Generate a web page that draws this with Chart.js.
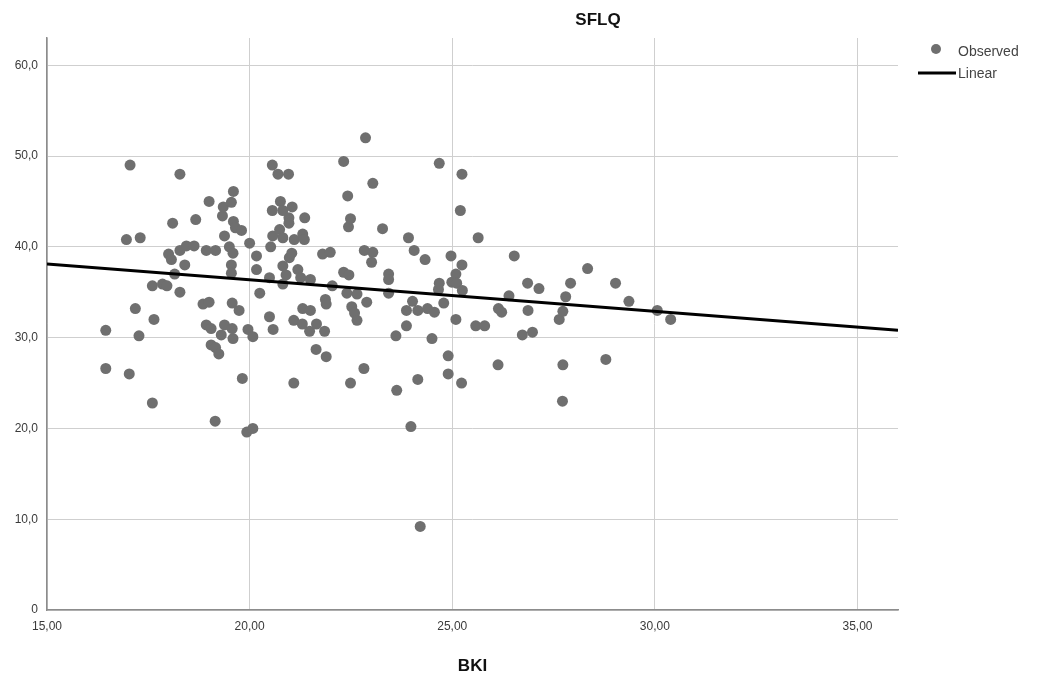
<!DOCTYPE html>
<html lang="en">
<head>
    <meta charset="UTF-8">
    <title>SFLQ vs BKI</title>
    <script src="https://cdn.jsdelivr.net/npm/chart.js"></script>
    <style>
        body {
            margin: 0;
            padding: 0;
            background: #fff;
        }
        .wrap {
            position: relative;
            width: 1038px;
            height: 680px;
        }
    </style>
</head>
<body>
<div class="wrap">
    <canvas id="chart" width="1038" height="680"></canvas>
</div>
<script>
    // observed points (BKI, SFLQ)
    const bki = [
        16.45, 16.45, 16.96, 17.05, 17.03, 17.18, 17.27, 17.3, 17.6, 17.6,
        17.64, 17.85, 17.96, 18.0, 18.07, 18.1, 18.15, 18.28, 18.28, 18.28,
        18.4, 18.44, 18.63, 18.67, 18.85, 18.93, 18.93, 19.0, 19.0, 19.05,
        19.05, 19.15, 19.16, 19.16, 19.24, 19.3, 19.33, 19.35, 19.38, 19.38,
        19.5, 19.55, 19.55, 19.55, 19.57, 19.57, 19.59, 19.59, 19.6, 19.6,
        19.65, 19.74, 19.8, 19.82, 19.93, 19.96, 20.0, 20.08, 20.08,
        20.17, 20.17, 20.25, 20.49, 20.49, 20.52, 20.56, 20.56, 20.57, 20.58,
        20.7, 20.74, 20.76, 20.82, 20.82, 20.82, 20.82, 20.9, 20.96, 20.97,
        20.97, 20.98, 21.04, 21.05, 21.09, 21.09, 21.1, 21.19, 21.26, 21.3,
        21.31, 21.31, 21.35, 21.36, 21.48, 21.5, 21.5, 21.64, 21.65, 21.8,
        21.85, 21.87, 21.89, 21.89, 21.99, 22.04, 22.32, 22.32, 22.4, 22.42,
        22.44, 22.45, 22.49, 22.49, 22.52, 22.59, 22.65, 22.65, 22.82, 22.83,
        22.86, 22.89, 23.01, 23.04, 23.04, 23.28, 23.43, 23.43, 23.43, 23.61,
        23.63, 23.87, 23.87, 23.92, 23.98, 24.02, 24.06, 24.15, 24.15, 24.21,
        24.33, 24.39, 24.5, 24.56, 24.66, 24.68, 24.68, 24.79, 24.9, 24.9,
        24.97, 24.99, 25.09, 25.09, 25.11, 25.2, 25.23, 25.24, 25.24, 25.25,
        25.58, 25.64, 25.8, 26.13, 26.14, 26.22, 26.4, 26.53, 26.73, 26.86,
        26.87, 26.98, 27.14, 27.64, 27.72, 27.73, 27.73, 27.8, 27.92, 28.34,
        28.79, 29.03, 29.36, 30.06, 30.39
    ];
    const sflq = [
        30.8, 26.6, 40.8, 49.0, 26.0, 33.2, 30.2, 41.0, 22.8, 35.7,
        32.0, 35.9, 35.7, 39.2, 38.6, 42.6, 37.0, 48.0, 39.6, 35.0,
        38.0, 40.1, 40.1, 43.0, 33.7, 39.6, 31.4, 45.0, 33.9, 31.0,
        29.2, 20.8, 39.6, 28.9, 28.2, 30.3, 43.4, 44.4, 41.2, 31.4,
        40.0, 44.9, 38.0, 37.1, 33.8, 31.0, 39.3, 29.9, 46.1, 42.8,
        42.1, 33.0, 41.8, 25.5, 19.6, 30.9, 40.4, 30.1, 20.0,
        39.0, 37.5, 34.9, 36.6, 32.3, 40.0, 49.0, 44.0, 41.2, 30.9,
        48.0, 41.9, 45.0, 44.0, 41.0, 37.9, 35.9, 36.9, 48.0, 43.2,
        42.6, 38.8, 39.3, 44.4, 31.9, 25.0, 40.8, 37.5, 36.6, 31.5,
        41.4, 33.2, 40.8, 43.2, 30.7, 36.4, 33.0, 28.7, 31.5, 39.2,
        30.7, 34.2, 33.7, 27.9, 39.4, 35.7, 49.4, 37.2, 34.9, 45.6,
        42.2, 36.9, 43.1, 25.0, 33.4, 32.7, 31.9, 34.8, 26.6, 39.6,
        52.0, 33.9, 38.3, 47.0, 39.4, 42.0, 37.0, 36.4, 34.9, 30.2,
        24.2, 31.3, 33.0, 41.0, 20.2, 34.0, 39.6, 33.0, 25.4, 9.2,
        38.6, 33.2, 29.9, 32.8, 35.3, 36.0, 49.2, 33.8, 28.0, 26.0,
        39.0, 36.1, 37.0, 32.0, 36.0, 44.0, 25.0, 48.0, 38.0, 35.2,
        31.3, 41.0, 31.3, 27.0, 33.2, 32.8, 34.6, 39.0, 30.3, 36.0,
        33.0, 30.6, 35.4, 32.0, 23.0, 32.9, 27.0, 34.5, 36.0, 37.6,
        27.6, 36.0, 34.0, 33.0, 32.0
    ];

    // linear fit line, ends read at the plot edges
    const fitX = [15, 36];
    const fitY = [38.1, 30.8];

    const xTicks = [15, 20, 25, 30, 35];
    const yTicks = [0, 10, 20, 30, 40, 50, 60];

    const observed = bki.map((x, i) => ({ x: x, y: sflq[i] }));
    const linear = fitX.map((x, i) => ({ x: x, y: fitY[i] }));

    const dotColor = '#6f6f6f';
    const textColor = '#3a3a3a';
    const fontFamily = 'Arial, "Liberation Sans", sans-serif';

    // titles and legend
    const extras = {
        id: 'extras',
        afterDraw(chart) {
            const ctx = chart.ctx;
            const area = chart.chartArea;
            ctx.save();
            ctx.fillStyle = '#111';
            ctx.font = 'bold 17px ' + fontFamily;
            ctx.textAlign = 'center';
            ctx.textBaseline = 'middle';
            ctx.fillText('SFLQ', 598, 20);
            ctx.fillText('BKI', (area.left + area.right) / 2, 666);

            // legend
            ctx.font = '14px ' + fontFamily;
            ctx.textAlign = 'left';
            ctx.fillStyle = '#444';
            ctx.fillText('Observed', 958, 52);
            ctx.fillText('Linear', 958, 74);
            ctx.beginPath();
            ctx.arc(936, 49, 5, 0, Math.PI * 2);
            ctx.fillStyle = dotColor;
            ctx.fill();
            ctx.strokeStyle = '#000';
            ctx.lineWidth = 3;
            ctx.beginPath();
            ctx.moveTo(918, 73);
            ctx.lineTo(956, 73);
            ctx.stroke();
            ctx.restore();
        }
    };

    new Chart(document.getElementById('chart'), {
        type: 'scatter',
        data: {
            datasets: [
                {
                    label: 'Observed',
                    data: observed,
                    backgroundColor: dotColor,
                    borderColor: dotColor,
                    pointRadius: 5.5,
                    pointHoverRadius: 5.5,
                    borderWidth: 0,
                    order: 2
                },
                {
                    label: 'Linear',
                    type: 'line',
                    data: linear,
                    borderColor: '#000',
                    borderWidth: 3,
                    pointRadius: 0,
                    fill: false,
                    order: 1
                }
            ]
        },
        options: {
            responsive: false,
            animation: false,
            events: [],
            layout: { padding: { left: 0, top: 38, right: 140, bottom: 0 } },
            plugins: {
                legend: { display: false },
                title: { display: false },
                tooltip: { enabled: false }
            },
            scales: {
                x: {
                    type: 'linear',
                    min: 15,
                    max: 36,
                    afterBuildTicks: s => { s.ticks = xTicks.map(v => ({ value: v })); },
                    afterFit: s => { s.height = 70; },
                    ticks: {
                        color: textColor,
                        font: { size: 12, family: fontFamily },
                        padding: 9,
                        maxRotation: 0,
                        callback: v => v.toFixed(2).replace('.', ',')
                    },
                    grid: { color: '#cfcfcf', lineWidth: 1, drawTicks: false },
                    border: { color: '#8c8c8c', width: 1.5 }
                },
                y: {
                    min: 0,
                    max: 63,
                    afterBuildTicks: s => { s.ticks = yTicks.map(v => ({ value: v })); },
                    afterFit: s => { s.width = 47; },
                    ticks: {
                        color: textColor,
                        font: { size: 12, family: fontFamily },
                        padding: 9,
                        callback: v => v === 0 ? '0' : v.toFixed(1).replace('.', ',')
                    },
                    grid: { color: '#cfcfcf', lineWidth: 1, drawTicks: false },
                    border: { color: '#8c8c8c', width: 1.5 }
                }
            }
        },
        plugins: [extras]
    });
</script>
</body>
</html>
